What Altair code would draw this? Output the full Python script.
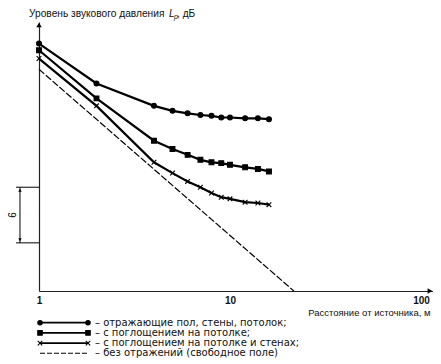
import altair as alt
import pandas as pd

# ---------------- data ----------------
distance = [1, 2, 4, 5, 6, 7, 8, 9, 10, 12, 14, 16]
reflective = [29.8, 25.0, 22.3, 21.7, 21.4, 21.2, 21.1, 20.9, 20.9, 20.8, 20.8, 20.7]
ceiling_abs = [29.0, 23.2, 18.1, 17.1, 16.4, 15.8, 15.5, 15.4, 15.2, 14.9, 14.7, 14.4]
ceiling_walls_abs = [28.0, 22.3, 15.5, 14.2, 13.2, 12.5, 11.8, 11.3, 11.1, 10.7, 10.6, 10.4]
free_distance = [1, 21.6]
free_field = [26.7, 0.0]

series_keys = ["refl", "ceil", "ceilwall"]
legend_labels = [
    "– отражающие пол, стены, потолок;",
    "– с поглощением на потолке;",
    "– с поглощением на потолке и стенах;",
    "– без отражений (свободное поле)",
]
x_ticks = [1, 10, 100]
x_domain = [1, 115.6]
y_domain = [0, 32.4]

# scale bar "6"
bar_x = 0.795
bar_tick_x = [0.758, 1.0]
bar_y = [5.8, 12.5]
bar_label = "6"

FONT = "Liberation Sans"
LEG_FONT = "DejaVu Sans"
XPATH = "M-1,-1L1,1M-1,1L1,-1"

# ---------------- frames ----------------
rows = []
for key, vals in zip(series_keys, [reflective, ceiling_abs, ceiling_walls_abs]):
    for d, v in zip(distance, vals):
        rows.append({"series": key, "distance": d, "level": v})
main_df = pd.DataFrame(rows)
free_df = pd.DataFrame({"distance": free_distance, "level": free_field})

xs = alt.Scale(type="log", domain=x_domain, nice=False)
ys = alt.Scale(domain=y_domain, nice=False, zero=False)

x_axis = alt.Axis(
    values=x_ticks, ticks=False, grid=False, labelFlush=False,
    domainColor="#222", domainWidth=1.2, labelFont=FONT, labelFontSize=10,
    labelFontWeight="bold", labelColor="#111", labelPadding=4,
    title="Расстояние от источника, м", titleFont=FONT, titleFontSize=9.5,
    titleFontWeight="normal", titleColor="#111", titleAnchor="end",
    titleAlign="right", titleX=391, titleY=21, titleBaseline="middle",
)
y_axis = alt.Axis(labels=False, ticks=False, grid=False, title=None,
                  domainColor="#222", domainWidth=1.2)

base = alt.Chart(main_df)
lines = base.mark_line(color="black", strokeWidth=2.2).encode(
    x=alt.X("distance:Q", scale=xs, axis=x_axis),
    y=alt.Y("level:Q", scale=ys, axis=y_axis),
    detail="series:N",
)
points = base.mark_point(fill="black", stroke="black", strokeWidth=1.1,
                         opacity=1, fillOpacity=1).encode(
    x=alt.X("distance:Q", scale=xs),
    y=alt.Y("level:Q", scale=ys),
    shape=alt.Shape("series:N", scale=alt.Scale(domain=series_keys,
                    range=["circle", "square", XPATH]), legend=None),
    size=alt.Size("series:N", scale=alt.Scale(domain=series_keys,
                  range=[24, 22, 30]), legend=None),
)
free = alt.Chart(free_df).mark_line(color="black", strokeWidth=1.2,
                                    strokeDash=[7, 2]).encode(
    x=alt.X("distance:Q", scale=xs),
    y=alt.Y("level:Q", scale=ys),
)

# axis arrowheads
arrow_up = alt.Chart(pd.DataFrame({"distance": [x_domain[0]], "level": [y_domain[1]]})).mark_point(
    shape="triangle-up", filled=True, color="black", size=30, yOffset=3, opacity=1
).encode(x=alt.X("distance:Q", scale=xs), y=alt.Y("level:Q", scale=ys))
arrow_right = alt.Chart(pd.DataFrame({"distance": [x_domain[1]], "level": [y_domain[0]]})).mark_point(
    shape="triangle-right", filled=True, color="black", size=30, xOffset=-3, opacity=1
).encode(x=alt.X("distance:Q", scale=xs), y=alt.Y("level:Q", scale=ys))

# scale bar
bar_v = alt.Chart(pd.DataFrame({"distance": [bar_x], "lo": [bar_y[0]], "hi": [bar_y[1]]})).mark_rule(
    color="black", strokeWidth=1
).encode(x=alt.X("distance:Q", scale=xs), y=alt.Y("lo:Q", scale=ys), y2="hi:Q")
bar_h = alt.Chart(pd.DataFrame({"x0": [bar_tick_x[0]] * 2, "x1": [bar_tick_x[1]] * 2, "level": bar_y})).mark_rule(
    color="black", strokeWidth=1
).encode(x=alt.X("x0:Q", scale=xs), x2="x1:Q", y=alt.Y("level:Q", scale=ys))
bar_top = alt.Chart(pd.DataFrame({"distance": [bar_x], "level": [bar_y[1]]})).mark_point(
    shape="triangle-up", filled=True, color="black", size=12, yOffset=3, opacity=1
).encode(x=alt.X("distance:Q", scale=xs), y=alt.Y("level:Q", scale=ys))
bar_bot = alt.Chart(pd.DataFrame({"distance": [bar_x], "level": [bar_y[0]]})).mark_point(
    shape="triangle-down", filled=True, color="black", size=12, yOffset=-3, opacity=1
).encode(x=alt.X("distance:Q", scale=xs), y=alt.Y("level:Q", scale=ys))
bar_text = alt.Chart(pd.DataFrame({"distance": [0.731], "level": [sum(bar_y) / 2], "t": [bar_label]})).mark_text(
    angle=270, font=FONT, fontSize=10, color="black", align="center", baseline="middle"
).encode(x=alt.X("distance:Q", scale=xs), y=alt.Y("level:Q", scale=ys), text="t:N")

# y title (with italic L and subscript p)
def txt(s, x, y, size=10, style="normal", weight="normal"):
    return alt.Chart(pd.DataFrame({"t": [s]})).mark_text(
        align="left", baseline="middle", font=FONT, fontSize=size,
        fontStyle=style, fontWeight=weight, color="#111"
    ).encode(x=alt.value(x), y=alt.value(y), text="t:N")

title_layers = [
    txt("Уровень звукового давления", -10, -8, 10.2),
    txt("L", 130, -8, 10.2, "italic"),
    txt("p", 135, -5, 7, "italic"),
    txt(", дБ", 138, -8, 10.2),
]

main = alt.layer(lines, free, points, arrow_up, arrow_right,
                 bar_v, bar_h, bar_top, bar_bot, bar_text, *title_layers)

# ---------------- legend ----------------
leg_df = pd.DataFrame({
    "label": legend_labels, "x0": [0] * 4, "x1": [1] * 4,
    "style": ["solid", "solid", "solid", "dashed"],
})
ly = alt.Scale(type="point", domain=legend_labels, range=[300.7, 331.3], padding=0)
lx = alt.Scale(domain=[0, 1], range=[1, 49])
leg_rule = alt.Chart(leg_df).mark_rule(color="black").encode(
    x=alt.X("x0:Q", scale=lx, axis=None), x2="x1:Q",
    y=alt.Y("label:N", scale=ly, axis=None),
    strokeDash=alt.StrokeDash("style:N", scale=alt.Scale(domain=["solid", "dashed"],
                              range=[[1, 0], [5, 2]]), legend=None),
    strokeWidth=alt.StrokeWidth("style:N", scale=alt.Scale(domain=["solid", "dashed"],
                                range=[1.8, 1.1]), legend=None),
)
leg_pts_rows = []
for lab in legend_labels[:3]:
    for p in [0, 1]:
        leg_pts_rows.append({"label": lab, "pos": p})
leg_pts = alt.Chart(pd.DataFrame(leg_pts_rows)).mark_point(
    fill="black", stroke="black", strokeWidth=1.1, opacity=1, fillOpacity=1
).encode(
    x=alt.X("pos:Q", scale=lx, axis=None),
    y=alt.Y("label:N", scale=ly, axis=None),
    shape=alt.Shape("label:N", scale=alt.Scale(domain=legend_labels[:3],
                    range=["circle", "square", XPATH]), legend=None),
    size=alt.Size("label:N", scale=alt.Scale(domain=legend_labels[:3],
                  range=[20, 20, 26]), legend=None),
)
leg_text = alt.Chart(leg_df).mark_text(
    align="left", baseline="middle", dx=7, font=LEG_FONT, fontSize=10, color="#111"
).encode(
    x=alt.X("x1:Q", scale=lx, axis=None),
    y=alt.Y("label:N", scale=ly, axis=None),
    text="label:N",
)
legend = alt.layer(leg_rule, leg_pts, leg_text)

chart = alt.layer(main, legend).resolve_scale(
    x="independent", y="independent", shape="independent", size="independent"
).properties(
    width=394, height=269,
    autosize=alt.AutoSizeParams(type="none"),
    padding={"left": 31, "top": 14, "right": 0, "bottom": 67},
    background="white",
).configure_view(stroke=None)

chart.save("out.html", embed_options={"renderer": "svg", "actions": False})
